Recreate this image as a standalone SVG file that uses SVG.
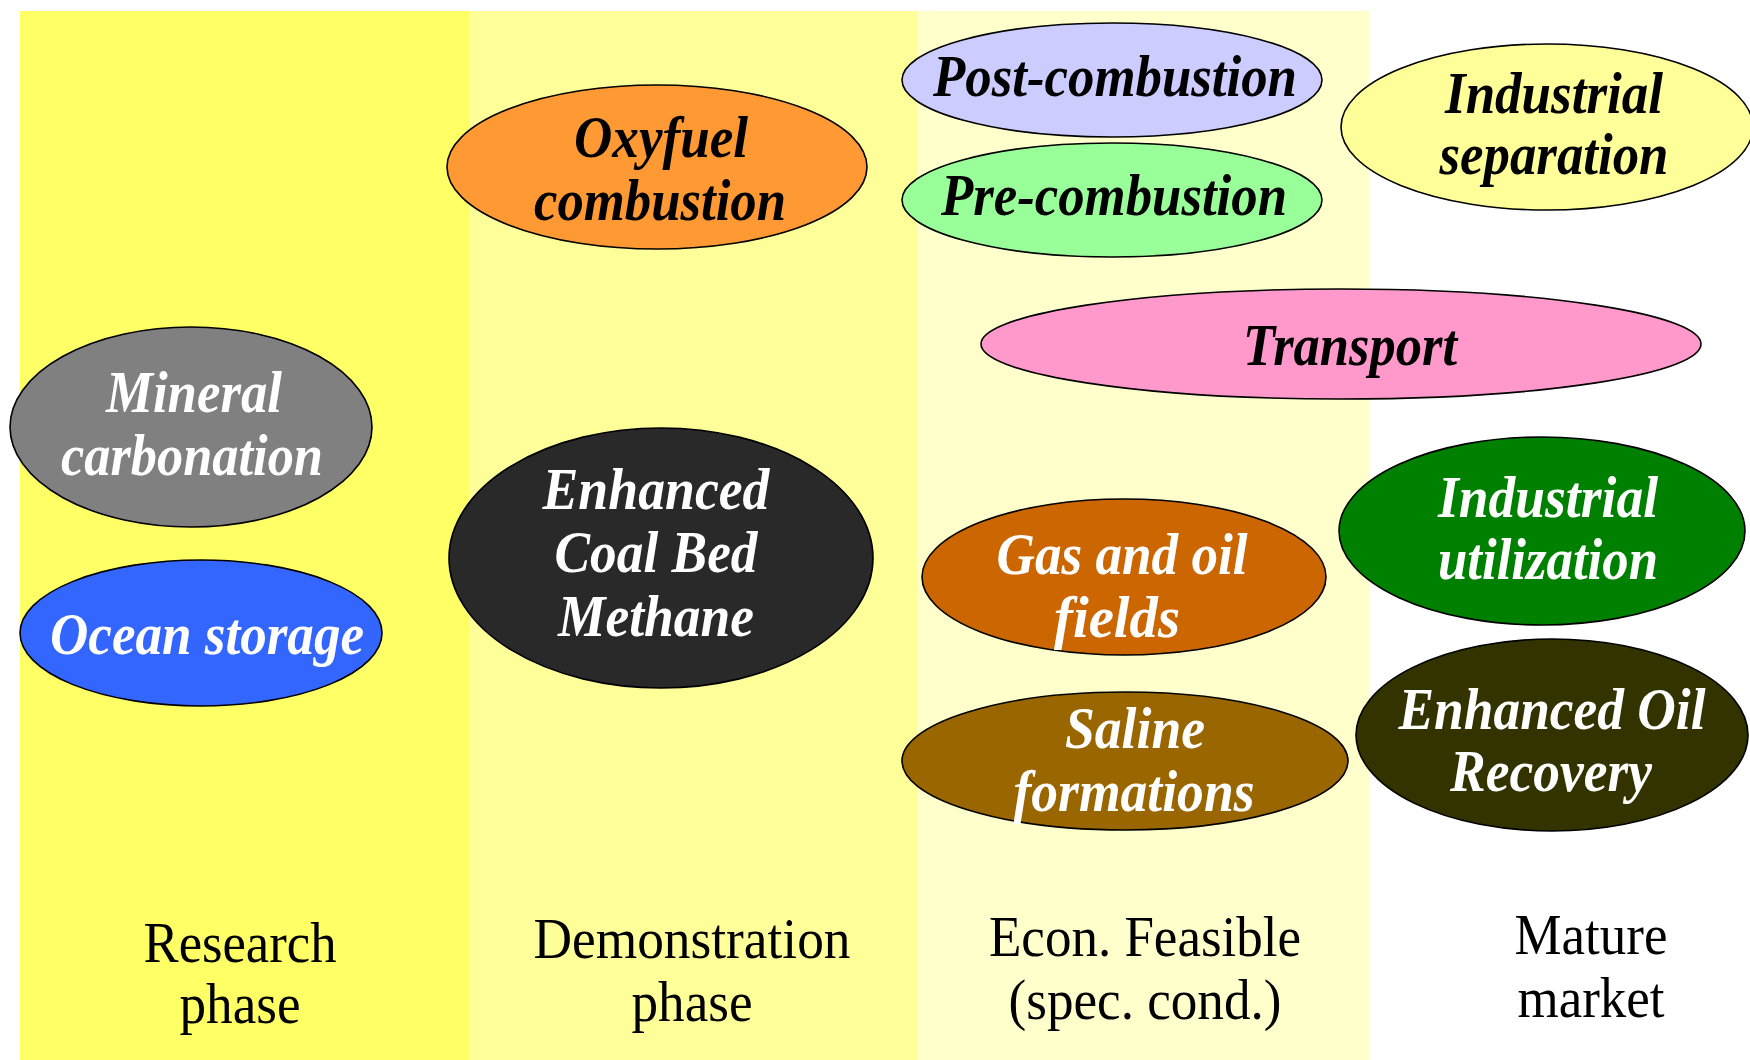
<svg xmlns="http://www.w3.org/2000/svg" width="1750" height="1060" viewBox="0 0 1750 1060">
<style>
.n ellipse{stroke:#000;stroke-width:1.6}
.n text{font-family:"Liberation Serif","Times New Roman",serif;font-weight:bold;font-style:italic;font-size:60px;text-anchor:middle}
.w text{fill:#fff}
.b text{fill:#000}
.lab{font-family:"Liberation Serif","Times New Roman",serif;font-size:58px;text-anchor:middle;fill:#000}
</style>
<rect width="1750" height="1060" fill="#fff"/>
<g id="columns">
<rect x="20" y="11" width="449" height="1049" fill="#FFFF66"/>
<rect x="469" y="11" width="448" height="1049" fill="#FFFF99"/>
<rect x="917" y="11" width="452" height="1049" fill="#FFFFCC"/>
</g>
<g id="labels">
<text class="lab" x="240" y="962" textLength="193" lengthAdjust="spacingAndGlyphs">Research</text>
<text class="lab" x="240" y="1023" textLength="121" lengthAdjust="spacingAndGlyphs">phase</text>
<text class="lab" x="692" y="958" textLength="317" lengthAdjust="spacingAndGlyphs">Demonstration</text>
<text class="lab" x="692" y="1021" textLength="121" lengthAdjust="spacingAndGlyphs">phase</text>
<text class="lab" x="1145" y="956" textLength="312" lengthAdjust="spacingAndGlyphs">Econ. Feasible</text>
<text class="lab" x="1145" y="1019" textLength="273" lengthAdjust="spacingAndGlyphs">(spec. cond.)</text>
<text class="lab" x="1591" y="954" textLength="153" lengthAdjust="spacingAndGlyphs">Mature</text>
<text class="lab" x="1591" y="1017" textLength="147" lengthAdjust="spacingAndGlyphs">market</text>
</g>
<g id="connectors"></g>
<g id="oxyfuel" class="n b">
<ellipse cx="657" cy="167" rx="210" ry="82" fill="#FF9933"/>
<text x="661" y="157" textLength="174" lengthAdjust="spacingAndGlyphs">Oxyfuel</text>
<text x="660" y="220" textLength="252" lengthAdjust="spacingAndGlyphs">combustion</text>
</g>
<g id="post" class="n b">
<ellipse cx="1112" cy="80" rx="210" ry="57" fill="#CCCCFF"/>
<text x="1115" y="96" textLength="364" lengthAdjust="spacingAndGlyphs">Post-combustion</text>
</g>
<g id="pre" class="n b">
<ellipse cx="1112" cy="200" rx="210" ry="57" fill="#99FF99"/>
<text x="1114" y="215" textLength="346" lengthAdjust="spacingAndGlyphs">Pre-combustion</text>
</g>
<g id="indsep" class="n b">
<ellipse cx="1547" cy="127" rx="206" ry="83" fill="#FFFF99"/>
<text x="1554" y="113" textLength="218" lengthAdjust="spacingAndGlyphs">Industrial</text>
<text x="1554" y="174" textLength="229" lengthAdjust="spacingAndGlyphs">separation</text>
</g>
<g id="transport" class="n b">
<ellipse cx="1341" cy="344" rx="360" ry="55" fill="#FF99CC"/>
<text x="1350" y="365" textLength="214" lengthAdjust="spacingAndGlyphs">Transport</text>
</g>
<g id="mineral" class="n w">
<ellipse cx="191" cy="427" rx="181" ry="100" fill="#808080"/>
<text x="194" y="412" textLength="176" lengthAdjust="spacingAndGlyphs">Mineral</text>
<text x="192" y="475" textLength="262" lengthAdjust="spacingAndGlyphs">carbonation</text>
</g>
<g id="ocean" class="n w">
<ellipse cx="201" cy="633" rx="181" ry="73" fill="#3366FF"/>
<text x="207" y="654" textLength="314" lengthAdjust="spacingAndGlyphs">Ocean storage</text>
</g>
<g id="ecbm" class="n w">
<ellipse cx="661" cy="558" rx="212" ry="130" fill="#292929"/>
<text x="656" y="509" textLength="227" lengthAdjust="spacingAndGlyphs">Enhanced</text>
<text x="656" y="572" textLength="203" lengthAdjust="spacingAndGlyphs">Coal Bed</text>
<text x="656" y="636" textLength="196" lengthAdjust="spacingAndGlyphs">Methane</text>
</g>
<g id="gasoil" class="n w">
<ellipse cx="1124" cy="577" rx="202" ry="78" fill="#CC6600"/>
<text x="1122" y="574" textLength="251" lengthAdjust="spacingAndGlyphs">Gas and oil</text>
<text x="1117" y="637" textLength="126" lengthAdjust="spacingAndGlyphs">fields</text>
</g>
<g id="saline" class="n w">
<ellipse cx="1125" cy="761" rx="223" ry="69" fill="#996600"/>
<text x="1135" y="748" textLength="140" lengthAdjust="spacingAndGlyphs">Saline</text>
<text x="1134" y="811" textLength="241" lengthAdjust="spacingAndGlyphs">formations</text>
</g>
<g id="indutil" class="n w">
<ellipse cx="1542" cy="531" rx="203" ry="94" fill="#008000"/>
<text x="1548" y="517" textLength="220" lengthAdjust="spacingAndGlyphs">Industrial</text>
<text x="1548" y="579" textLength="220" lengthAdjust="spacingAndGlyphs">utilization</text>
</g>
<g id="eor" class="n w">
<ellipse cx="1552" cy="735" rx="196" ry="96" fill="#333300"/>
<text x="1552" y="729" textLength="307" lengthAdjust="spacingAndGlyphs">Enhanced Oil</text>
<text x="1551" y="791" textLength="202" lengthAdjust="spacingAndGlyphs">Recovery</text>
</g>
</svg>
